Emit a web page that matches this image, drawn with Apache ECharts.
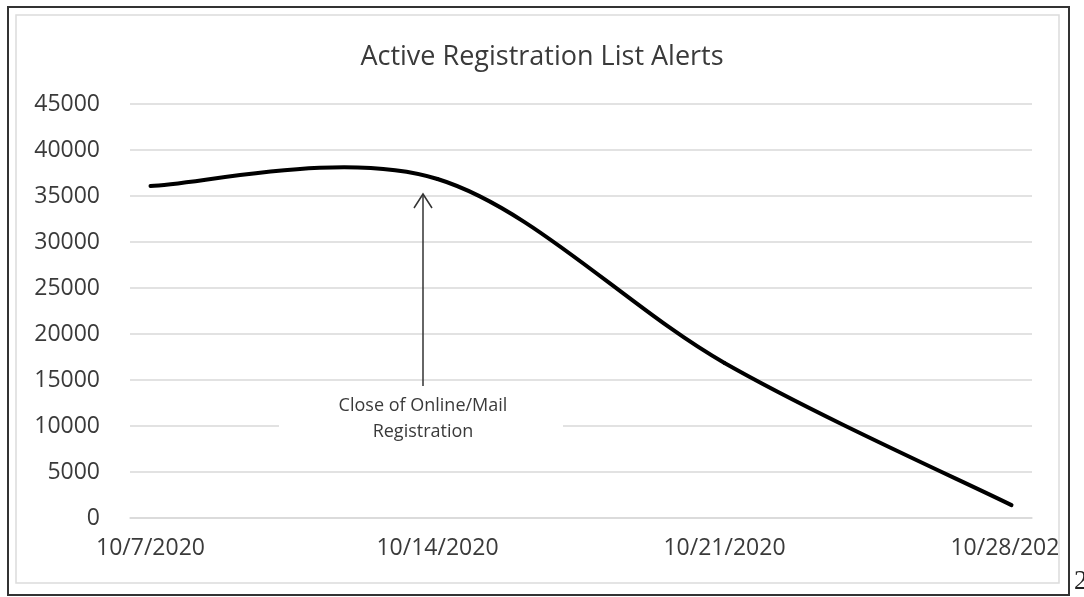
<!DOCTYPE html>
<html>
<head>
<meta charset="utf-8">
<title>Active Registration List Alerts</title>
<script src="https://cdn.jsdelivr.net/npm/echarts@6/dist/echarts.min.js"></script>
<style>
  html, body { margin: 0; padding: 0; background: #fff; }
  #chart { width: 1084px; height: 597px; }
</style>
</head>
<body>
<div id="chart"></div>
<script>
// weekly readings of the alert list
const pointDates = ['10/7/2020', '10/14/2020', '10/21/2020', '10/28/2020']
const alertCounts = [36100, 36850, 16850, 1400]
const yTicks = { min: 0, max: 45000, interval: 5000 }

// date axis is daily, one slot per day (Excel style), labels every 7 days
const days = []
const start = new Date(2020, 9, 7)
const end = new Date(2020, 9, 28)
for (let d = new Date(start); d <= end; d.setDate(d.getDate() + 1)) {
  days.push((d.getMonth() + 1) + '/' + d.getDate() + '/' + d.getFullYear())
}
const seriesData = pointDates.map((d, i) => [days.indexOf(d), alertCounts[i]])

const textColor = '#3a3a3a'
const gridColor = '#d9d9d9'
const font = 'Open Sans'

// Excel "smoothed line": cardinal spline through the points, one bezier per segment
function renderSegment (params, api) {
  const i = params.dataIndex
  const n = seriesData.length
  if (i >= n - 1) return null
  const P = j => api.coord(seriesData[Math.max(0, Math.min(n - 1, j))])
  const p0 = P(i - 1)
  const p1 = P(i)
  const p2 = P(i + 1)
  const p3 = P(i + 2)
  const t = 1 / 6
  return {
    type: 'bezierCurve',
    shape: {
      x1: p1[0], y1: p1[1],
      x2: p2[0], y2: p2[1],
      cpx1: p1[0] + (p2[0] - p0[0]) * t,
      cpy1: p1[1] + (p2[1] - p0[1]) * t,
      cpx2: p2[0] - (p3[0] - p1[0]) * t,
      cpy2: p2[1] - (p3[1] - p1[1]) * t
    },
    style: { stroke: '#000', lineWidth: 4, fill: null, lineCap: 'round' }
  }
}

const chart = echarts.init(document.getElementById('chart'))
chart.setOption({
  animation: false,
  backgroundColor: '#fff',
  title: {
    text: 'Active Registration List Alerts',
    left: 537,
    textAlign: 'center',
    top: 39,
    textStyle: { fontFamily: font, fontSize: 27, fontWeight: 'normal', color: textColor }
  },
  grid: { left: 130, right: 52, top: 104, bottom: 79 },
  xAxis: {
    type: 'category',
    data: days,
    boundaryGap: true,
    axisLine: { lineStyle: { color: gridColor, width: 1.5 } },
    axisTick: { interval: 6, length: 8, lineStyle: { color: gridColor, width: 1.5 } },
    axisLabel: {
      interval: 6,
      margin: 19,
      fontFamily: font,
      fontSize: 23,
      color: textColor
    },
    splitLine: { show: false }
  },
  yAxis: {
    type: 'value',
    min: yTicks.min,
    max: yTicks.max,
    interval: yTicks.interval,
    axisLine: { show: false },
    axisTick: { show: false },
    axisLabel: {
      margin: 30,
      fontFamily: font,
      fontSize: 23,
      color: textColor,
      formatter: v => String(v)
    },
    splitLine: { lineStyle: { color: gridColor, width: 1.5 } }
  },
  series: [
    {
      name: 'Active Registration List Alerts',
      type: 'custom',
      data: seriesData,
      renderItem: renderSegment,
      encode: { x: 0, y: 1 }
    }
  ],
  graphic: [
    // annotation: white box under the label hides the gridline
    {
      type: 'rect',
      z: 50,
      shape: { x: 279, y: 392, width: 284, height: 60 },
      style: { fill: '#fff' }
    },
    {
      type: 'text',
      z: 51,
      x: 423,
      y: 393,
      style: {
        text: 'Close of Online/Mail\nRegistration',
        align: 'center',
        fontFamily: font,
        fontSize: 18,
        lineHeight: 26,
        fill: textColor
      }
    },
    {
      type: 'polyline',
      z: 51,
      shape: { points: [[423, 386], [423, 194]] },
      style: { stroke: '#333', lineWidth: 1.5, fill: null }
    },
    {
      type: 'polyline',
      z: 51,
      shape: { points: [[414, 208], [423, 194], [432, 208]] },
      style: { stroke: '#333', lineWidth: 1.5, fill: null }
    },
    // last date label runs out of the plot frame and is cut there
    {
      type: 'rect',
      z: 90,
      shape: { x: 1058, y: 526, width: 26, height: 50 },
      style: { fill: '#fff' }
    },
    {
      type: 'rect',
      z: 95,
      shape: { x: 16, y: 15, width: 1043, height: 568 },
      style: { fill: null, stroke: '#dcdcdc', lineWidth: 1.5 }
    },
    {
      type: 'rect',
      z: 95,
      shape: { x: 8, y: 7, width: 1061, height: 588 },
      style: { fill: null, stroke: '#333', lineWidth: 2 }
    },
    {
      type: 'text',
      z: 95,
      x: 1074,
      y: 568,
      style: { text: '2', fontFamily: 'Liberation Serif', fontSize: 27, fill: '#222' }
    }
  ]
})
</script>
</body>
</html>
